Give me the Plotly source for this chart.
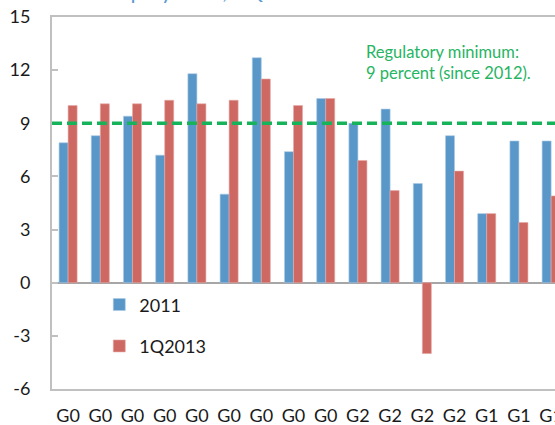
import plotly.graph_objects as go

# ---- data ----
tick_labels = ["G0", "G0", "G0", "G0", "G0", "G0", "G0", "G0", "G0",
               "G2", "G2", "G2", "G2", "G1", "G1", "G1"]
series_2011 = [7.9, 8.3, 9.4, 7.2, 11.8, 5.0, 12.7, 7.4, 10.4,
               9.0, 9.8, 5.6, 8.3, 3.9, 8.0, 8.0]
series_1q2013 = [10.0, 10.1, 10.1, 10.3, 10.1, 10.3, 11.5, 10.0, 10.4,
                 6.9, 5.2, -4.0, 6.3, 3.9, 3.4, 4.9]
regulatory_min = 9
y_ticks = [-6, -3, 0, 3, 6, 9, 12, 15]
y_tick_labels = ["-6", "-3", "0", "3", "6", "9", "12", "15"]
title_text = "Core equity ratio, 1Q2013"
note_text = "Regulatory minimum:<br>9 percent (since 2012)."

x_pos = list(range(len(tick_labels)))
FONT = "Lato, 'Open Sans', sans-serif"

fig = go.Figure()
fig.add_trace(go.Bar(
    x=x_pos, y=series_2011, name="2011", legendgroup="a",
    marker=dict(color="#5a97c9", line=dict(color="#a9c9e6", width=0.6)),
))
fig.add_trace(go.Bar(
    x=x_pos, y=series_1q2013, name="1Q2013", legendgroup="b",
    marker=dict(color="#cd6863", line=dict(color="#e6aaa6", width=0.6)),
))

fig.add_shape(type="line", xref="paper", x0=0, x1=1, yref="y",
              y0=regulatory_min, y1=regulatory_min,
              line=dict(color="#16b35a", width=3.5, dash="10px,5px"))

fig.add_annotation(text=note_text, xref="paper", yref="paper",
                   x=0.620, y=0.937, xanchor="left", yanchor="top",
                   align="left", showarrow=False,
                   font=dict(family=FONT, size=16.5, color="#27b463"))

fig.add_annotation(text=title_text, xref="paper", yref="paper",
                   x=0.012, y=1.03, xanchor="left", yanchor="bottom",
                   align="left", showarrow=False,
                   font=dict(family=FONT, size=22, color="#5b9bd0"))

fig.update_layout(
    width=555, height=425,
    margin=dict(l=52, r=0, t=17, b=36, autoexpand=False),
    paper_bgcolor="white", plot_bgcolor="white",
    barmode="group", bargap=0.44, bargroupgap=0,
    font=dict(family=FONT, size=18, color="#1a1a1a"),
    showlegend=True,
    legend=dict(x=0.094, y=0.276, xanchor="left", yanchor="top",
                tracegroupgap=15, bgcolor="rgba(0,0,0,0)",
                font=dict(family=FONT, size=18, color="#1a1a1a")),
    xaxis=dict(range=[-0.5, 15.12], tickmode="array", tickvals=x_pos,
               ticktext=tick_labels, showgrid=False, ticks="",
               showline=True, linecolor="#c0c0c0", linewidth=2, mirror=True,
               automargin=False, ticklabelstandoff=9,
               ticklabeloverflow="allow",
               tickfont=dict(family=FONT, size=18, color="#1a1a1a")),
    yaxis=dict(range=[-6, 15], tickmode="array", tickvals=y_ticks,
               ticktext=y_tick_labels,
               showgrid=False, ticks="inside", ticklen=6, tickwidth=2,
               tickcolor="#c0c0c0", showline=True, linecolor="#c0c0c0",
               linewidth=2, mirror=True, zeroline=True,
               zerolinecolor="#a6a6a6", zerolinewidth=2,
               automargin=False, ticklabelstandoff=16,
               tickfont=dict(family=FONT, size=18, color="#1a1a1a")),
)

fig.write_html("out.html", config={"displayModeBar": False},
               post_script="document.body.style.margin='0';document.body.style.overflow='hidden';")
